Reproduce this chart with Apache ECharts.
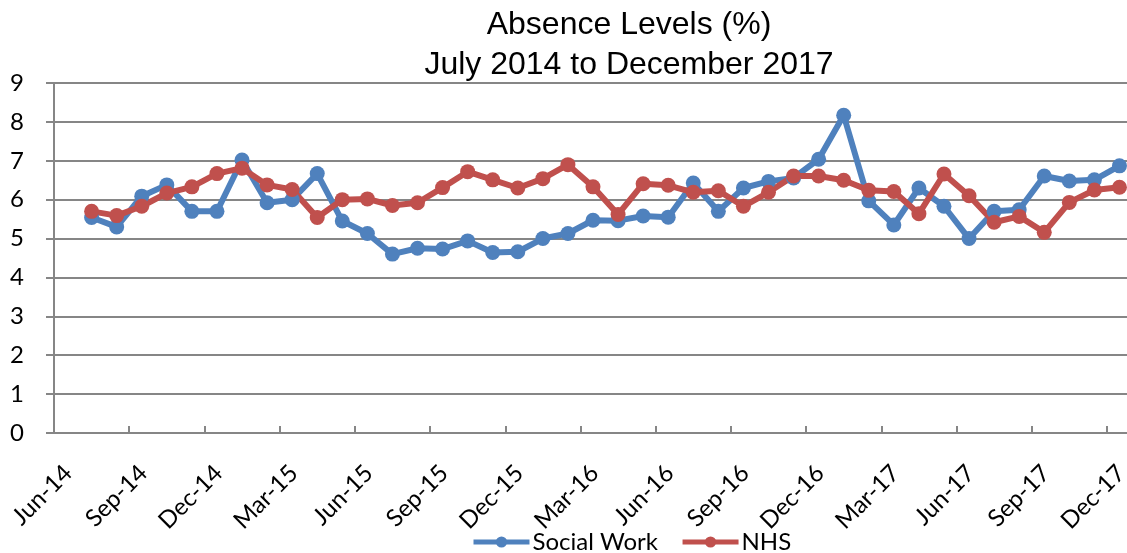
<!DOCTYPE html>
<html>
<head>
<meta charset="utf-8">
<title>Absence Levels</title>
<script src="https://cdn.jsdelivr.net/npm/echarts@6/dist/echarts.min.js"></script>
<style>
    html, body { margin: 0; padding: 0; background: #fff; }
    #chart { width: 1127px; height: 553px; }
</style>
</head>
<body>
<div id="chart"></div>
<script>
// monthly figures, Jul-14 .. Dec-17
var months = [
    'Jul-14', 'Aug-14', 'Sep-14', 'Oct-14', 'Nov-14', 'Dec-14',
    'Jan-15', 'Feb-15', 'Mar-15', 'Apr-15', 'May-15', 'Jun-15', 'Jul-15', 'Aug-15', 'Sep-15', 'Oct-15', 'Nov-15', 'Dec-15',
    'Jan-16', 'Feb-16', 'Mar-16', 'Apr-16', 'May-16', 'Jun-16', 'Jul-16', 'Aug-16', 'Sep-16', 'Oct-16', 'Nov-16', 'Dec-16',
    'Jan-17', 'Feb-17', 'Mar-17', 'Apr-17', 'May-17', 'Jun-17', 'Jul-17', 'Aug-17', 'Sep-17', 'Oct-17', 'Nov-17', 'Dec-17'
];
var socialWork = [
    5.54, 5.30, 6.09, 6.38, 5.70, 5.70,
    7.02, 5.92, 6.00, 6.67, 5.45, 5.13, 4.60, 4.75, 4.73, 4.94, 4.64, 4.66,
    5.00, 5.13, 5.47, 5.46, 5.58, 5.55, 6.43, 5.70, 6.30, 6.47, 6.56, 7.04,
    8.17, 5.97, 5.35, 6.30, 5.83, 5.00, 5.70, 5.74, 6.61, 6.48, 6.51, 6.87
];
var nhs = [
    5.70, 5.59, 5.83, 6.17, 6.33, 6.67,
    6.81, 6.38, 6.26, 5.54, 6.00, 6.02, 5.85, 5.92, 6.31, 6.72, 6.51, 6.30,
    6.54, 6.90, 6.33, 5.62, 6.41, 6.37, 6.19, 6.23, 5.83, 6.19, 6.61, 6.61,
    6.50, 6.24, 6.21, 5.64, 6.66, 6.10, 5.42, 5.57, 5.16, 5.93, 6.25, 6.32
];
// quarterly tick labels on the date axis, Jun-14 = month 0
var tickLabels = [
    'Jun-14', 'Sep-14', 'Dec-14', 'Mar-15', 'Jun-15', 'Sep-15', 'Dec-15', 'Mar-16',
    'Jun-16', 'Sep-16', 'Dec-16', 'Mar-17', 'Jun-17', 'Sep-17', 'Dec-17'
];

// points sit mid-month: Jul-14 -> 1.5 months after Jun-14
function toPoints(values) {
    return values.map(function (v, i) {
        return { name: months[i], value: [i + 1.5, v] };
    });
}

var gridGrey = '#868686';
var labelFont = 'Lato, "Open Sans", sans-serif';

var chart = echarts.init(document.getElementById('chart'));
var option = {
    animation: false,
    backgroundColor: '#fff',
    title: {
        text: 'Absence Levels (%)\nJuly 2014 to December 2017',
        left: 624,
        top: 0,
        textAlign: 'center',
        textStyle: {
            fontFamily: '"Liberation Sans", Arial, sans-serif',
            fontWeight: 'normal',
            fontSize: 32,
            lineHeight: 40,
            color: '#000'
        }
    },
    legend: {
        left: 471,
        top: 530,
        itemWidth: 56,
        itemHeight: 14,
        itemGap: 22,
        padding: 0,
        lineStyle: { width: 5 },
        textStyle: { fontFamily: labelFont, fontSize: 24, color: '#000', padding: [0, 0, 0, -2] },
        data: ['Social Work', 'NHS']
    },
    grid: {
        left: 54,
        right: -5,
        top: 83,
        bottom: 120,
        outerBoundsMode: 'none'
    },
    xAxis: {
        type: 'value',
        min: 0,
        max: 43,
        interval: 3,
        splitLine: { show: false },
        axisLine: { lineStyle: { color: gridGrey, width: 2 } },
        axisTick: { inside: true, length: 7, lineStyle: { color: gridGrey, width: 2 } },
        axisLabel: {
            rotate: 45,
            margin: 22,
            verticalAlign: 'top',
            lineHeight: 40,
            fontFamily: labelFont,
            fontSize: 24,
            color: '#000',
            showMaxLabel: true,
            hideOverlap: false,
            formatter: function (v) {
                return v % 3 === 0 && tickLabels[v / 3] ? tickLabels[v / 3] : '';
            }
        }
    },
    yAxis: {
        type: 'value',
        min: 0,
        max: 9,
        interval: 1,
        axisLine: { show: true, lineStyle: { color: gridGrey, width: 2 } },
        axisTick: { show: true, length: 8, lineStyle: { color: gridGrey, width: 2 } },
        splitLine: { lineStyle: { color: gridGrey, width: 2 } },
        axisLabel: { margin: 30, fontFamily: labelFont, fontSize: 24, color: '#000' }
    },
    series: [{
        name: 'Social Work',
        type: 'line',
        symbol: 'circle',
        symbolSize: 15,
        color: '#4F81BD',
        lineStyle: { width: 6 },
        data: toPoints(socialWork)
    }, {
        name: 'NHS',
        type: 'line',
        symbol: 'circle',
        symbolSize: 15,
        color: '#C0504D',
        lineStyle: { width: 6 },
        data: toPoints(nhs)
    }]
};
chart.setOption(option);
</script>
</body>
</html>
